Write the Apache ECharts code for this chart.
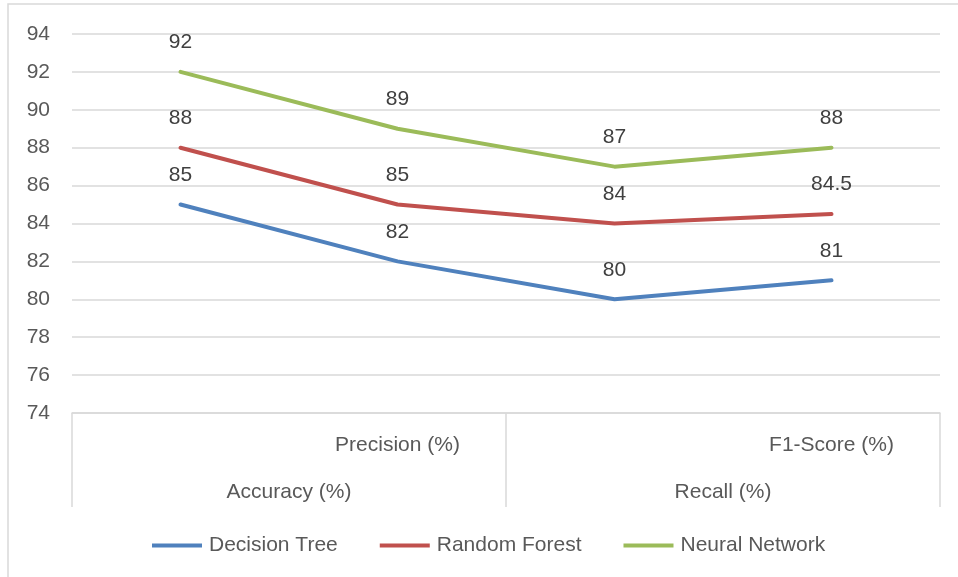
<!DOCTYPE html>
<html>
<head>
<meta charset="utf-8">
<script src="https://cdn.jsdelivr.net/npm/echarts@6/dist/echarts.min.js"></script>
<style>
  html, body { margin: 0; padding: 0; background: #ffffff; }
  #chart { width: 958px; height: 577px; }
</style>
</head>
<body>
<div id="chart"></div>
<script>
// Metric categories and model scores
const categories = ['Accuracy (%)', 'Precision (%)', 'Recall (%)', 'F1-Score (%)'];
const decisionTree = [85, 82, 80, 81];
const randomForest = [88, 85, 84, 84.5];
const neuralNetwork = [92, 89, 87, 88];
const yTicks = { min: 74, max: 94, step: 2 };

const FONT = 'Liberation Sans';
const GRID_COLOR = '#D9D9D9';

// Lower label row: every other category name, centred in a two-category cell
const lowerRow = categories.filter((_, i) => i % 2 === 0);

function lineSeries(name, data, color) {
  return {
    name: name,
    type: 'line',
    xAxisIndex: 0,
    data: data,
    symbol: 'circle',
    symbolSize: 0,
    showSymbol: true,
    lineStyle: { color: color, width: 4, cap: 'round', join: 'round' },
    itemStyle: { color: color },
    label: {
      show: true,
      position: 'top',
      distance: 19,
      color: '#404040',
      fontFamily: FONT,
      fontSize: 21
    },
    emphasis: { disabled: true }
  };
}

const chart = echarts.init(document.getElementById('chart'), null, { renderer: 'canvas' });

chart.setOption({
  animation: false,
  backgroundColor: '#ffffff',
  textStyle: { fontFamily: FONT },
  graphic: [{
    type: 'rect',
    silent: true,
    shape: { x: 8, y: 4, width: 1200, height: 1200 },
    style: { fill: 'none', stroke: GRID_COLOR, lineWidth: 1.5 }
  }],
  grid: { left: 72, right: 18, top: 34, bottom: 164, containLabel: false },
  xAxis: [
    {
      type: 'category',
      position: 'bottom',
      data: categories,
      boundaryGap: true,
      axisLine: { show: true, lineStyle: { color: GRID_COLOR, width: 1.5 } },
      axisTick: { show: false },
      axisLabel: {
        interval: 0,
        margin: 22,
        color: '#595959',
        fontFamily: FONT,
        fontSize: 21,
        formatter: (v, i) => (i % 2 === 1 ? v : '')
      },
      splitLine: { show: false }
    },
    {
      type: 'category',
      position: 'bottom',
      data: lowerRow,
      boundaryGap: true,
      axisLine: { show: false },
      axisTick: {
        show: true,
        interval: 0,
        length: 94,
        lineStyle: { color: GRID_COLOR, width: 1.5 }
      },
      axisLabel: {
        interval: 0,
        margin: 69,
        color: '#595959',
        fontFamily: FONT,
        fontSize: 21
      },
      splitLine: { show: false }
    }
  ],
  yAxis: {
    type: 'value',
    min: yTicks.min,
    max: yTicks.max,
    interval: yTicks.step,
    axisLine: { show: false },
    axisTick: { show: false },
    axisLabel: {
      margin: 22,
      color: '#595959',
      fontFamily: FONT,
      fontSize: 21
    },
    splitLine: { show: true, lineStyle: { color: GRID_COLOR, width: 1.5 } }
  },
  legend: {
    bottom: 16,
    left: 147,
    icon: 'rect',
    itemWidth: 50,
    itemHeight: 4,
    itemGap: 42,
    textStyle: { color: '#595959', fontFamily: FONT, fontSize: 21, padding: [0, 0, 0, 2] },
    data: ['Decision Tree', 'Random Forest', 'Neural Network']
  },
  series: [
    lineSeries('Decision Tree', decisionTree, '#4F81BD'),
    lineSeries('Random Forest', randomForest, '#C0504D'),
    lineSeries('Neural Network', neuralNetwork, '#9BBB59')
  ]
});
</script>
</body>
</html>
